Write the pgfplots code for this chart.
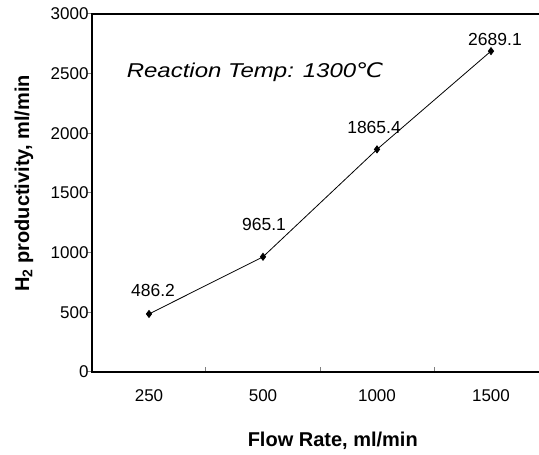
\documentclass[border=0pt]{standalone}
\usepackage{fontspec}
\setmainfont{Liberation Sans}
\newfontfamily\dejavu{DejaVu Sans}
\usepackage{graphicx}
\usepackage{pgfplots}
\pgfplotsset{compat=1.18}
\begin{document}
\begin{tikzpicture}[x=1pt,y=1pt]
\useasboundingbox (0,0) rectangle (539,455);
\begin{axis}[
  at={(92pt,83pt)}, anchor=south west,
  scale only axis, width=456pt, height=358pt,
  xmin=-0.5, xmax=3.5, ymin=0, ymax=3000,
  axis line style={line width=1.6pt},
  xtick={0,1,2,3}, xticklabels={250,500,1000,1500},
  minor xtick={0.5,1.5,2.5},
  major x tick style={draw=none},
  minor tick length=5pt, major tick length=5pt,
  minor x tick style={line width=1pt},
  ytick={0,500,1000,1500,2000,2500,3000},
  ytick style={xshift=-5pt, line width=1pt},
  xtick pos=bottom, ytick pos=left,
  /pgf/number format/assume math mode=true,
  yticklabel style={font=\fontsize{17}{20}\selectfont, /pgf/number format/1000 sep={}},
  xticklabel style={font=\fontsize{17}{20}\selectfont, yshift=-14pt},
  xlabel={Flow Rate, ml/min},
  ylabel={H\textsubscript{2} productivity, ml/min},
  xlabel style={font=\fontsize{20}{22}\selectfont\bfseries, at={(axis description cs:0.528,-0.193)}, anchor=center},
  ylabel style={font=\fontsize{20}{22}\selectfont\bfseries, at={(axis description cs:-0.149,0.5265)}, anchor=center},
  clip=false,
]
\addplot[black, line width=0.8pt, mark=diamond*, mark size=3.5pt, mark options={solid, fill=black}]
  coordinates {(0,486.2) (1,965.1) (2,1865.4) (3,2689.1)};
\node[font=\fontsize{17.5}{20}\selectfont] at (axis cs:0.035,679) {486.2};
\node[font=\fontsize{17.5}{20}\selectfont] at (axis cs:1.009,1240) {965.1};
\node[font=\fontsize{17.5}{20}\selectfont] at (axis cs:1.974,2053) {1865.4};
\node[font=\fontsize{17.5}{20}\selectfont] at (axis cs:3.035,2790) {2689.1};
\end{axis}
\node[font=\fontsize{20}{22}\selectfont\itshape] at (255,383) {\scalebox{1.2}[1.0]{Reaction Temp: 1300{\dejavu ℃}}};
\end{tikzpicture}
\end{document}
